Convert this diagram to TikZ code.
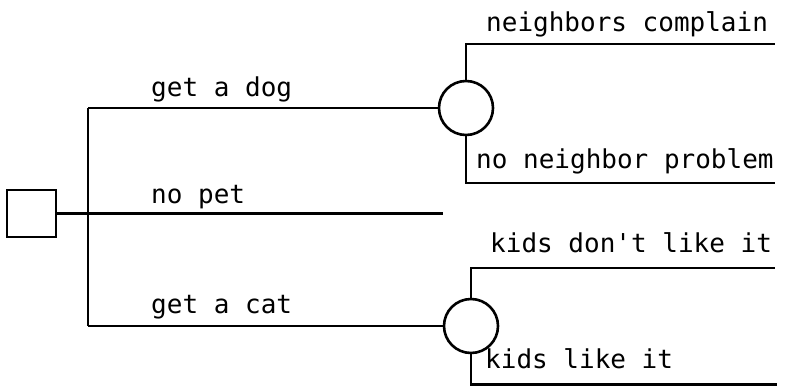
\documentclass[tikz,border=0pt]{standalone}
\usepackage{fontspec}
\newfontfamily\typefont{DejaVu Sans Mono}
\begin{document}
\begin{tikzpicture}[x=1pt,y=-1pt,
  ln/.style={line width=2.7pt},
  lbl/.style={anchor=base west,inner sep=0pt,font=\typefont\fontsize{26}{30}\selectfont},
  chance/.style={circle,draw,line width=2.6pt,minimum size=54pt,inner sep=0pt},
  decision/.style={rectangle,draw,line width=2.1pt,minimum width=49pt,minimum height=47pt,inner sep=0pt}]
\useasboundingbox (0,0) rectangle (791,385);
\node[decision] (dec) at (31.5,213.5) {};
\node[chance] (c1) at (466,108) {};
\node[chance] (c2) at (471,326) {};
\coordinate (j) at (88,213.5);
\coordinate (jt) at (88,108);
\coordinate (jb) at (88,326);
\coordinate (npend) at (443,213.5);
\coordinate (e1) at (775,44);
\coordinate (e2) at (775,183);
\coordinate (e3) at (775,268);
\coordinate (e4) at (777,384.5);
\draw[ln] (dec.east) -- (j);
\draw[ln] (jt) -- (jb);
\draw[ln] (jt) -- (c1.west);
\draw[ln] (j) -- (npend);
\draw[ln] (jb) -- (c2.west);
\draw[ln] (c1.north) |- (e1);
\draw[ln] (c1.south) |- (e2);
\draw[ln] (c2.north) |- (e3);
\draw[ln] (c2.south) |- (e4);
\node[lbl] (ldog) at (151,97) {get a dog};
\node[lbl] (lnop) at (151,203) {no pet};
\node[lbl] (lcat) at (151,313) {get a cat};
\node[lbl] (lnc) at (486,32) {neighbors complain};
\node[lbl] (lnn) at (476,168) {no neighbor problem};
\node[lbl] (lkd) at (490,252) {kids don't like it};
\node[lbl] (lkl) at (485,368) {kids like it};
\end{tikzpicture}
\end{document}
